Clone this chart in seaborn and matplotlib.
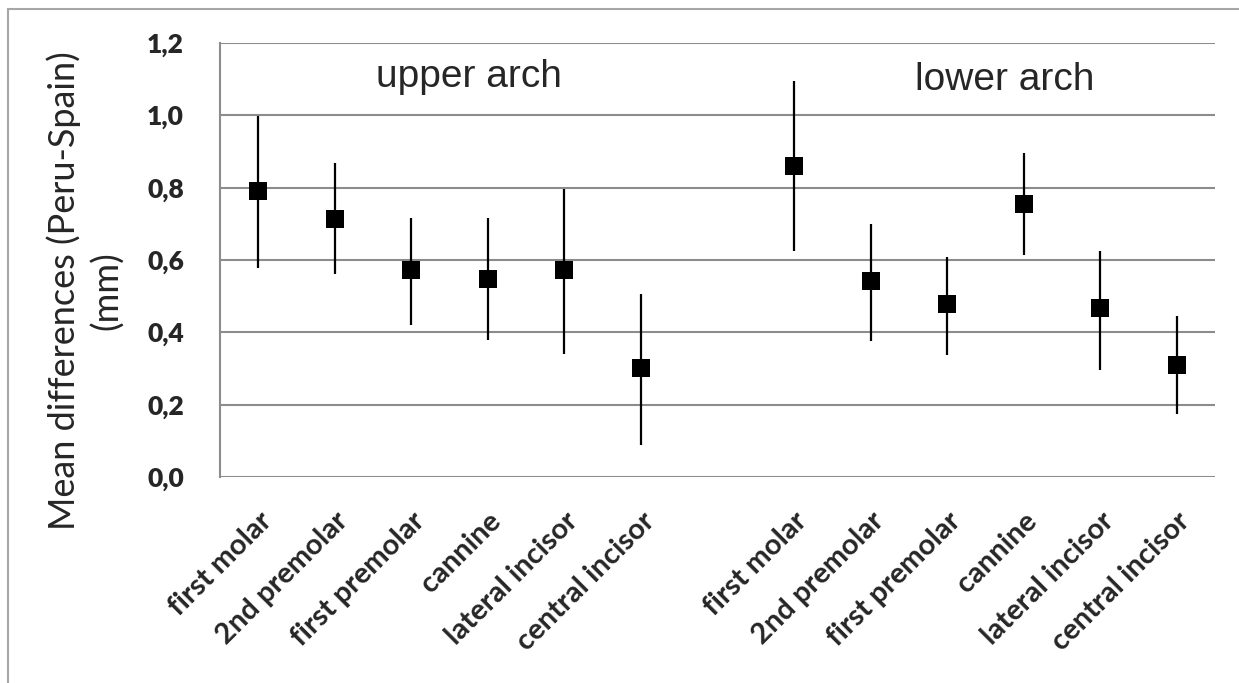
import matplotlib
matplotlib.use("Agg")
import matplotlib.pyplot as plt
import seaborn as sns
import pandas as pd
import numpy as np
from matplotlib.patches import Rectangle

# tooth labels (same for both arches)
teeth = ['first molar', '2nd premolar', 'first premolar', 'cannine',
         'lateral incisor', 'central incisor']

# upper arch: mean difference and error bar ends (mm)
upper_mean = [0.79, 0.714, 0.571, 0.548, 0.571, 0.301]
upper_low = [0.579, 0.560, 0.421, 0.380, 0.341, 0.088]
upper_high = [0.997, 0.868, 0.717, 0.717, 0.797, 0.507]

# lower arch
lower_mean = [0.859, 0.541, 0.477, 0.754, 0.466, 0.311]
lower_low = [0.625, 0.376, 0.336, 0.613, 0.297, 0.173]
lower_high = [1.094, 0.699, 0.608, 0.897, 0.625, 0.445]

yticks = [0.0, 0.2, 0.4, 0.6, 0.8, 1.0, 1.2]

# one empty slot between the two arches
pos = list(range(6)) + list(range(7, 13))
df = pd.DataFrame({
    'pos': pos,
    'tooth': teeth + teeth,
    'mean': upper_mean + lower_mean,
    'low': upper_low + lower_low,
    'high': upper_high + lower_high,
})

sns.set_style('white')
plt.rcParams['font.family'] = ['Lato', 'DejaVu Sans']

fig = plt.figure(figsize=(12.39, 6.83), dpi=100)
ax = fig.add_axes([220 / 1239, 1 - 477 / 683, (1215 - 220) / 1239, (477 - 43) / 683])

# outer frame
fig.patches.append(Rectangle((8 / 1239, -0.01), 1.0, 1 - 9 / 683 + 0.01,
                             transform=fig.transFigure, fill=False,
                             edgecolor='#a6a6a6', linewidth=1.5))

for y in yticks:
    ax.axhline(y, color='#8c8c8c', linewidth=1.5, zorder=0)

ax.vlines(df['pos'], df['low'], df['high'], color='black', linewidth=1.6, zorder=2)
sns.scatterplot(data=df, x='pos', y='mean', marker='s', s=175, color='black',
                edgecolor='black', linewidth=0, ax=ax, zorder=3)

ax.set_xlim(-0.5, 12.5)
ax.set_ylim(0, 1.2)
ax.set_yticks(yticks)
ax.set_yticklabels([f'{v:.1f}'.replace('.', ',') for v in yticks],
                   fontsize=19, fontweight='heavy')
ax.set_xticks(df['pos'])
ax.set_xticklabels(df['tooth'], rotation=45, ha='right', rotation_mode='anchor',
                   fontsize=21, fontweight='bold')
ax.tick_params(axis='y', length=0, pad=26)
ax.tick_params(axis='x', length=0, pad=22)

for side in ['top', 'right', 'bottom']:
    ax.spines[side].set_visible(False)
ax.spines['left'].set_color('#8c8c8c')
ax.spines['left'].set_linewidth(1.5)

ax.set_xlabel('')
ax.set_ylabel('Mean differences (Peru-Spain)\n(mm)', fontsize=26,
              linespacing=1.3)
ax.yaxis.set_label_coords(-0.097, 0.43)

ax.text(2.75, 1.105, 'upper arch', fontsize=28, ha='center', va='center',
        family='Liberation Sans')
ax.text(9.75, 1.098, 'lower arch', fontsize=28, ha='center', va='center',
        family='Liberation Sans')

fig.savefig('out.png', dpi=100)
